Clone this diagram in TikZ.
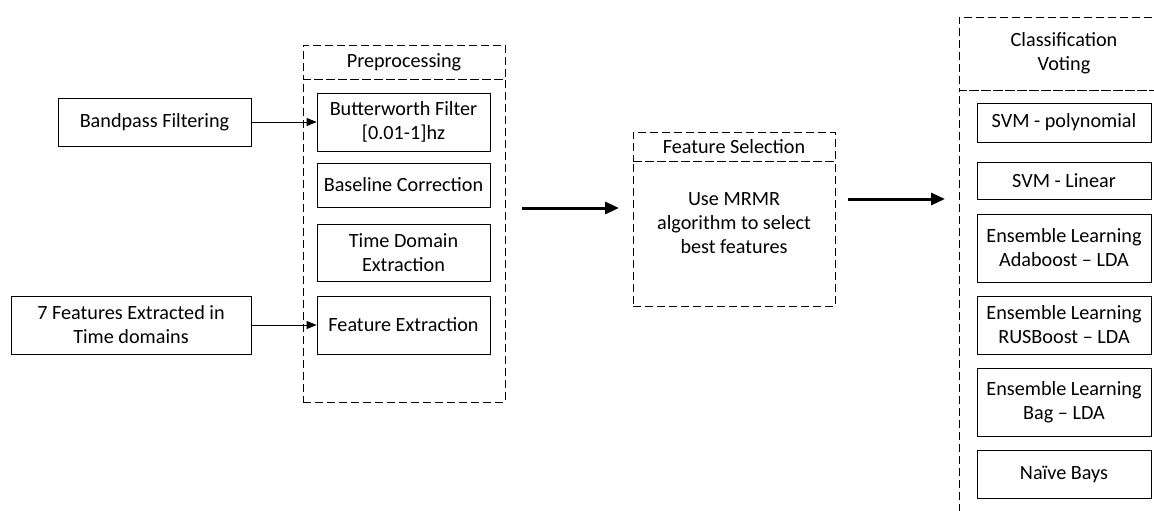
\documentclass[tikz,border=0pt]{standalone}
\usepackage{fontspec}
\setmainfont{Carlito}
\usetikzlibrary{arrows.meta,calc}
\tikzset{
  blk/.style={draw,thick,align=center,inner sep=2pt},
  grp/.style={draw,thick,dash pattern=on 8pt off 4pt,align=center,inner sep=2pt},
  thin arr/.style={-{Triangle[length=10pt,width=8pt]},thick},
  big arr/.style={-{Triangle[length=14pt,width=12pt]},line width=3pt}
}
\begin{document}
\begin{tikzpicture}[x=1pt,y=-1pt,font=\fontsize{20.2}{24}\selectfont,line width=1.2pt]
\useasboundingbox (0,0) rectangle (1154,511);
\clip (0,0) rectangle (1154,511);
% inputs
\node[blk,minimum width=193pt,minimum height=48pt] (band) at (154.5,122) {Bandpass Filtering};
\node[blk,minimum width=240pt,minimum height=58pt] (feat7) at (131,325) {7 Features Extracted in\\Time domains};
% preprocessing
\node[grp,minimum width=202pt,minimum height=34pt] (pretitle) at (404,62) {Preprocessing};
\node[grp,minimum width=202pt,minimum height=323pt] (pre) at (404,240.5) {};
\node[blk,minimum width=173pt,minimum height=58pt] (butter) at (403.5,122) {Butterworth Filter\\{}[0.01-1]hz};
\node[blk,minimum width=173pt,minimum height=44pt] (base) at (403.5,185) {Baseline Correction};
\node[blk,minimum width=173pt,minimum height=57pt] (tdom) at (403.5,252.5) {Time Domain\\Extraction};
\node[blk,minimum width=173pt,minimum height=58pt] (fext) at (403.5,325) {Feature Extraction};
\draw[thin arr] (band) -- (butter);
\draw[thin arr] (feat7) -- (fext);
% feature selection
\node[grp,minimum width=202pt,minimum height=29pt] (fstitle) at (734,146.5) {Feature Selection};
\node[grp,minimum width=202pt,minimum height=145pt] (fs) at (734,233.5) {};
\node[align=center] (mrmr) at (734,223.5) {Use MRMR\\algorithm to select\\best features};
\coordinate (a1s) at (522,208);
\coordinate (a1e) at (619,208);
\coordinate (a2s) at (848,199);
\coordinate (a2e) at (945,199);
\draw[big arr] (a1s) -- (a1e);
\draw[big arr] (a2s) -- (a2e);
% classification
\node[grp,minimum width=210pt,minimum height=73pt] (cltitle) at (1064,53.5) {Classification\\Voting};
\node[grp,minimum width=210pt,minimum height=450pt] (cl) at (1064,315) {};
\node[blk,minimum width=174pt,minimum height=39pt] (svmp) at (1064,122.5) {SVM - polynomial};
\node[blk,minimum width=174pt,minimum height=37pt] (svml) at (1064,180.5) {SVM - Linear};
\node[blk,minimum width=174pt,minimum height=68pt] (ada) at (1064,248) {Ensemble Learning\\Adaboost -- LDA};
\node[blk,minimum width=174pt,minimum height=58pt] (rus) at (1064,325) {Ensemble Learning\\RUSBoost -- LDA};
\node[blk,minimum width=174pt,minimum height=68pt] (bag) at (1064,402) {Ensemble Learning\\Bag -- LDA};
\node[blk,minimum width=174pt,minimum height=48pt] (nb) at (1064,474) {Naïve Bays};
\end{tikzpicture}
\end{document}
